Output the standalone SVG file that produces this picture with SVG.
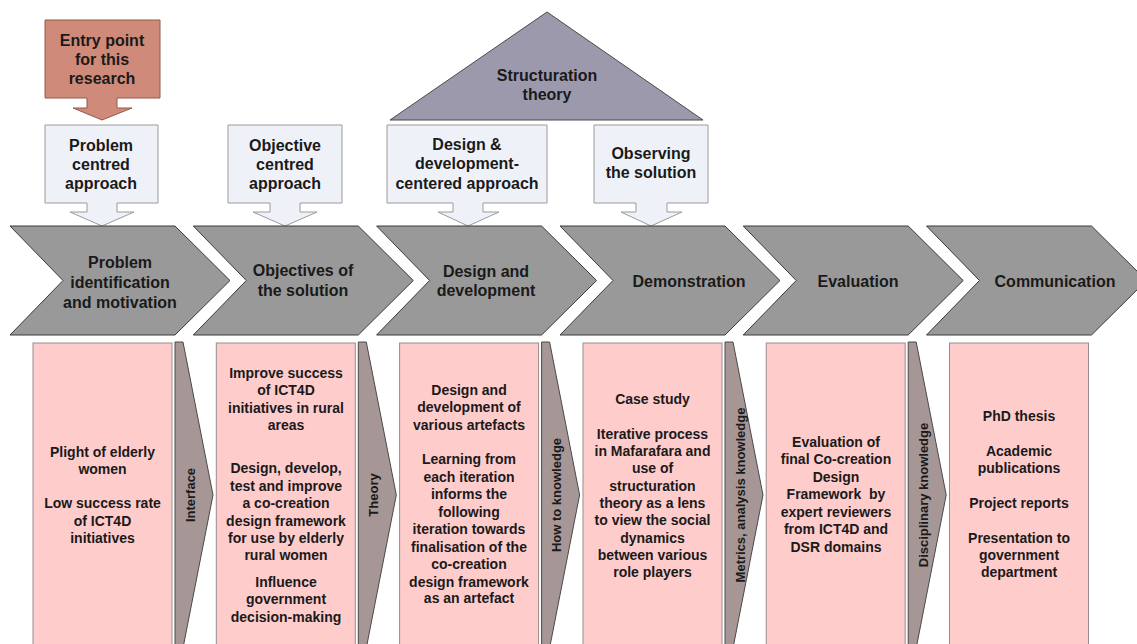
<svg xmlns="http://www.w3.org/2000/svg" width="1137" height="644" viewBox="0 0 1137 644">
  <style>
    text { font-family: "Liberation Sans", Arial, sans-serif; fill: #1a1a1a; text-anchor: middle; font-weight: bold; }
    .top { font-size: 16px; }
    .chev { font-size: 16px; }
    .body { font-size: 14px; }
    .lbl { font-size: 13px; }
    .chevron { fill: #999999; stroke: #3a3a3a; stroke-width: 1; }
    .callout { fill: #eef2f8; stroke: #9a9a9a; stroke-width: 1; }
    .entry { fill: #cf8a7a; stroke: #8e5b4f; stroke-width: 1; }
    .pink { fill: #ffcccc; stroke: #9a8c8c; stroke-width: 1; }
    .link { fill: #a69696; stroke: #4a4a4a; stroke-width: 1; }
    .roof { fill: #9c99ad; stroke: #4a4a4a; stroke-width: 1; }
  </style>

  <rect width="1137" height="644" fill="#ffffff"/>

  <!-- theory roof -->
  <g id="structuration">
    <polygon class="roof" points="547,12 703,120 390,120"/>
    <text class="top" x="547" y="81">Structuration</text>
    <text class="top" x="547" y="100">theory</text>
  </g>

  <!-- entry marker -->
  <g id="entry">
    <polygon class="entry" points="45,20 160,20 160,98 117,98 117,108 132,108 102,120 73,108 87,108 87,98 45,98"/>
    <text class="top" x="102" y="46">Entry point</text>
    <text class="top" x="102" y="65">for this</text>
    <text class="top" x="102" y="84">research</text>
  </g>

  <!-- approach callouts -->
  <g id="approach-problem">
    <polygon class="callout" points="45,125 158,125 158,203 117,203 117,212 134,212 102,226 70,212 87,212 87,203 45,203"/>
    <text class="top" x="101" y="151">Problem</text>
    <text class="top" x="101" y="170">centred</text>
    <text class="top" x="101" y="189">approach</text>
  </g>
  <g id="approach-objective">
    <polygon class="callout" points="228,125 342,125 342,203 300,203 300,212 317,212 285,226 253,212 270,212 270,203 228,203"/>
    <text class="top" x="285" y="151">Objective</text>
    <text class="top" x="285" y="170">centred</text>
    <text class="top" x="285" y="189">approach</text>
  </g>
  <g id="approach-design">
    <polygon class="callout" points="387,125 547,125 547,203 483,203 483,212 499,212 468,226 438,212 453,212 453,203 387,203"/>
    <text class="top" x="467" y="150">Design &amp;</text>
    <text class="top" x="467" y="169">development-</text>
    <text class="top" x="467" y="189">centered approach</text>
  </g>
  <g id="approach-observing">
    <polygon class="callout" points="594,125 708,125 708,203 667,203 667,212 682,212 651,226 621,212 636,212 636,203 594,203"/>
    <text class="top" x="651" y="159">Observing</text>
    <text class="top" x="651" y="178">the solution</text>
  </g>

  <!-- process chevrons -->
  <g id="step-problem">
    <polygon class="chevron" points="10,226 175,226 230,280.5 175,335 10,335 63,280.5"/>
    <text class="chev" x="120" y="268">Problem</text>
    <text class="chev" x="120" y="288">identification</text>
    <text class="chev" x="120" y="308">and motivation</text>
  </g>
  <g id="step-objectives">
    <polygon class="chevron" points="193.3,226 358.3,226 413.3,280.5 358.3,335 193.3,335 246.3,280.5"/>
    <text class="chev" x="303" y="276">Objectives of</text>
    <text class="chev" x="303" y="296">the solution</text>
  </g>
  <g id="step-design">
    <polygon class="chevron" points="376.6,226 541.6,226 596.6,280.5 541.6,335 376.6,335 429.6,280.5"/>
    <text class="chev" x="486" y="277">Design and</text>
    <text class="chev" x="486" y="296">development</text>
  </g>
  <g id="step-demonstration">
    <polygon class="chevron" points="560,226 725,226 780,280.5 725,335 560,335 613,280.5"/>
    <text class="chev" x="689" y="287">Demonstration</text>
  </g>
  <g id="step-evaluation">
    <polygon class="chevron" points="743.2,226 908.2,226 963.2,280.5 908.2,335 743.2,335 796.2,280.5"/>
    <text class="chev" x="858" y="287">Evaluation</text>
  </g>
  <g id="step-communication">
    <polygon class="chevron" points="926.5,226 1091.5,226 1146.5,280.5 1091.5,335 926.5,335 979.5,280.5"/>
    <text class="chev" x="1055" y="287">Communication</text>
  </g>

  <!-- activity boxes -->
  <g id="activity-problem">
    <rect class="pink" x="33" y="343" width="139" height="310"/>
    <text class="body" x="102.5" y="457">Plight of elderly</text>
    <text class="body" x="102.5" y="474">women</text>
    <text class="body" x="102.5" y="508">Low success rate</text>
    <text class="body" x="102.5" y="526">of ICT4D</text>
    <text class="body" x="102.5" y="543">initiatives</text>
  </g>
  <g id="activity-objectives">
    <rect class="pink" x="216.3" y="343" width="139" height="310"/>
    <text class="body" x="286" y="378">Improve success</text>
    <text class="body" x="286" y="395">of ICT4D</text>
    <text class="body" x="286" y="413">initiatives in rural</text>
    <text class="body" x="286" y="430">areas</text>
    <text class="body" x="286" y="473">Design, develop,</text>
    <text class="body" x="286" y="491">test and improve</text>
    <text class="body" x="286" y="508">a co-creation</text>
    <text class="body" x="286" y="526">design framework</text>
    <text class="body" x="286" y="543">for use by elderly</text>
    <text class="body" x="286" y="560">rural women</text>
    <text class="body" x="286" y="587">Influence</text>
    <text class="body" x="286" y="604">government</text>
    <text class="body" x="286" y="622">decision-making</text>
  </g>
  <g id="activity-design">
    <rect class="pink" x="399.6" y="343" width="139" height="310"/>
    <text class="body" x="469" y="395">Design and</text>
    <text class="body" x="469" y="412">development of</text>
    <text class="body" x="469" y="430">various artefacts</text>
    <text class="body" x="469" y="464">Learning from</text>
    <text class="body" x="469" y="482">each iteration</text>
    <text class="body" x="469" y="499">informs the</text>
    <text class="body" x="469" y="517">following</text>
    <text class="body" x="469" y="534">iteration towards</text>
    <text class="body" x="469" y="552">finalisation of the</text>
    <text class="body" x="469" y="569">co-creation</text>
    <text class="body" x="469" y="587">design framework</text>
    <text class="body" x="469" y="603">as an artefact</text>
  </g>
  <g id="activity-demonstration">
    <rect class="pink" x="583" y="343" width="139" height="310"/>
    <text class="body" x="652.5" y="404">Case study</text>
    <text class="body" x="652.5" y="439">Iterative process</text>
    <text class="body" x="652.5" y="456">in Mafarafara and</text>
    <text class="body" x="652.5" y="473">use of</text>
    <text class="body" x="652.5" y="491">structuration</text>
    <text class="body" x="652.5" y="508">theory as a lens</text>
    <text class="body" x="652.5" y="525">to view the social</text>
    <text class="body" x="652.5" y="543">dynamics</text>
    <text class="body" x="652.5" y="560">between various</text>
    <text class="body" x="652.5" y="577">role players</text>
  </g>
  <g id="activity-evaluation">
    <rect class="pink" x="766.2" y="343" width="139" height="310"/>
    <text class="body" x="836" y="447">Evaluation of</text>
    <text class="body" x="836" y="464">final Co-creation</text>
    <text class="body" x="836" y="482">Design</text>
    <text class="body" x="836" y="499" style="white-space:pre">Framework  by</text>
    <text class="body" x="836" y="517">expert reviewers</text>
    <text class="body" x="836" y="534">from ICT4D and</text>
    <text class="body" x="836" y="552">DSR domains</text>
  </g>
  <g id="activity-communication">
    <rect class="pink" x="949.5" y="343" width="139" height="310"/>
    <text class="body" x="1019" y="421">PhD thesis</text>
    <text class="body" x="1019" y="456">Academic</text>
    <text class="body" x="1019" y="473">publications</text>
    <text class="body" x="1019" y="508">Project reports</text>
    <text class="body" x="1019" y="543">Presentation to</text>
    <text class="body" x="1019" y="560">government</text>
    <text class="body" x="1019" y="577">department</text>
  </g>

  <!-- knowledge connectors between activities -->
  <g id="connectors">
    <polygon class="link" points="175,342 183,342 213,495 183,648 175,648"/>
    <polygon class="link" points="358.3,342 366.3,342 396.3,495 366.3,648 358.3,648"/>
    <polygon class="link" points="541.6,342 549.6,342 579.6,495 549.6,648 541.6,648"/>
    <polygon class="link" points="725,342 733,342 763,495 733,648 725,648"/>
    <polygon class="link" points="908.2,342 916.2,342 946.2,495 916.2,648 908.2,648"/>
    <text class="lbl" transform="translate(194.5,495) rotate(-90)">Interface</text>
    <text class="lbl" transform="translate(377.8,495) rotate(-90)">Theory</text>
    <text class="lbl" transform="translate(561.1,495) rotate(-90)">How to knowledge</text>
    <text class="lbl" transform="translate(744.5,495) rotate(-90)">Metrics, analysis knowledge</text>
    <text class="lbl" transform="translate(927.7,495) rotate(-90)">Disciplinary knowledge</text>
  </g>
</svg>
